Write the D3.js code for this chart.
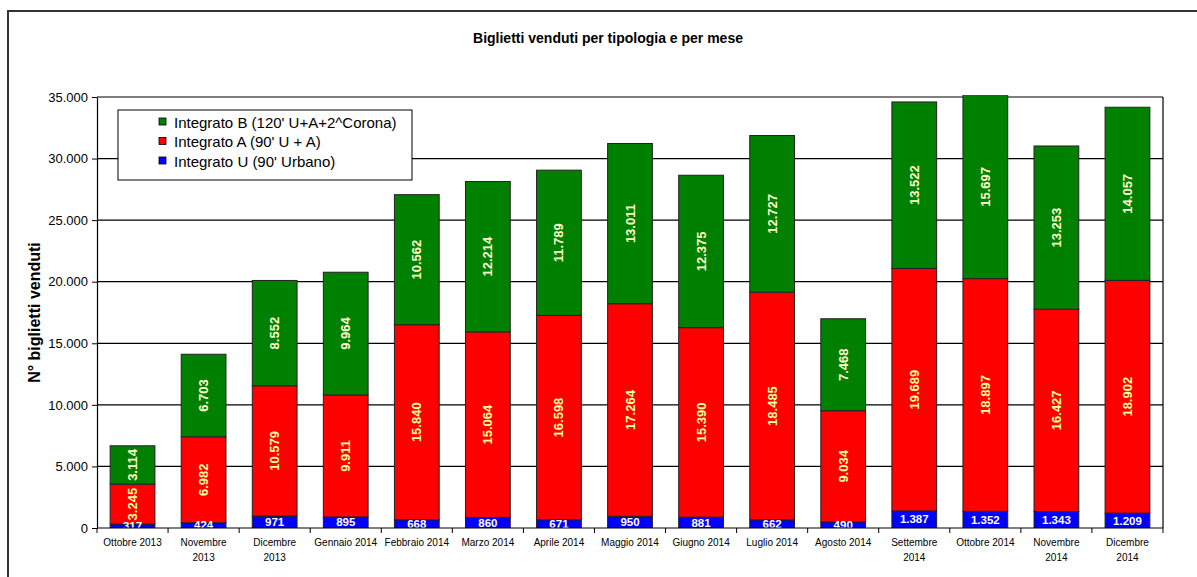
<!DOCTYPE html>
<html>
<head>
<meta charset="utf-8">
<script src="https://cdn.jsdelivr.net/npm/d3@7"></script>
<style>
  body { margin: 0; background: #fff; }
  svg { font-family: Arial, "Liberation Sans", sans-serif; }
</style>
</head>
<body>
<svg width="1197" height="577"></svg>
<script>
// months (\n = line break in the axis label)
const months = ["Ottobre 2013", "Novembre\n2013", "Dicembre\n2013", "Gennaio 2014", "Febbraio 2014",
  "Marzo 2014", "Aprile 2014", "Maggio 2014", "Giugno 2014", "Luglio 2014", "Agosto 2014",
  "Settembre\n2014", "Ottobre 2014", "Novembre\n2014", "Dicembre\n2014"]

const integratoU = [317, 424, 971, 895, 668, 860, 671, 950, 881, 662, 490, 1387, 1352, 1343, 1209]
const integratoA = [3245, 6982, 10579, 9911, 15840, 15064, 16598, 17264, 15390, 18485, 9034, 19689, 18897, 16427, 18902]
const integratoB = [3114, 6703, 8552, 9964, 10562, 12214, 11789, 13011, 12375, 12727, 7468, 13522, 15697, 13253, 14057]

const seriesNames = ["Integrato U (90' Urbano)", "Integrato A (90' U + A)", "Integrato B (120' U+A+2^Corona)"]
const seriesColors = ["#0000ff", "#ff0000", "#008000"]
const yTicks = [0, 5000, 10000, 15000, 20000, 25000, 30000, 35000]

const svg = d3.select("svg")
const fmt = d3.formatLocale({decimal: ",", thousands: ".", grouping: [3], currency: ["", ""]}).format(",d")

// outer frame
svg.append("rect").attr("x", 8).attr("y", 11).attr("width", 1210).attr("height", 600)
  .attr("fill", "none").attr("stroke", "#333").attr("stroke-width", 2)

const pLeft = 97, pRight = 1163, pTop = 97, pBottom = 528

const x = d3.scaleBand().domain(months).range([pLeft, pRight]).paddingInner(0.37).paddingOuter(0.185)
const y = d3.scaleLinear().domain([0, 35000]).range([pBottom, pTop])

// gridlines + plot border
svg.append("g").selectAll("line").data(yTicks.slice(1)).join("line")
  .attr("x1", pLeft).attr("x2", pRight).attr("y1", d => y(d)).attr("y2", d => y(d))
  .attr("stroke", "#000").attr("stroke-width", 1.2)
svg.append("line").attr("x1", pRight).attr("x2", pRight).attr("y1", pTop).attr("y2", pBottom)
  .attr("stroke", "#000").attr("stroke-width", 1.2)

// stack the data
const rows = months.map((m, i) => ({m, U: integratoU[i], A: integratoA[i], B: integratoB[i]}))
const stack = d3.stack().keys(["U", "A", "B"])(rows)

svg.append("clipPath").attr("id", "clip").append("rect")
  .attr("x", pLeft).attr("y", pTop - 2).attr("width", pRight - pLeft).attr("height", pBottom - pTop + 2)

const barsG = svg.append("g").attr("clip-path", "url(#clip)")
stack.forEach((s, k) => {
  barsG.append("g").selectAll("rect").data(s).join("rect")
    .attr("x", d => x(d.data.m))
    .attr("width", x.bandwidth())
    .attr("y", d => y(d[1]))
    .attr("height", d => y(d[0]) - y(d[1]))
    .attr("fill", seriesColors[k])
    .attr("stroke", "#222").attr("stroke-width", 1)
})

// value labels
const labelColors = ["#ffffff", "#ffff99", "#ffffcc"]
const labG = svg.append("g").attr("font-weight", "bold")
stack.forEach((s, k) => {
  labG.append("g").selectAll("text").data(s).join("text")
    .attr("text-anchor", "middle")
    .attr("font-size", k == 0 ? 11.5 : 13)
    .attr("fill", labelColors[k])
    .attr("transform", d => {
      const cx = x(d.data.m) + x.bandwidth() / 2
      const t = Math.max(y(d[1]), pTop - 2)
      const cy = (y(d[0]) + t) / 2
      if (k == 0) return `translate(${cx},${cy + 4})`
      return `translate(${cx + 4.5},${cy}) rotate(-90)`
    })
    .text(d => fmt(d[1] - d[0]))
})

// y axis
const yAxis = svg.append("g").attr("transform", `translate(${pLeft},0)`)
  .call(d3.axisLeft(y).tickValues(yTicks).tickFormat(fmt).tickSize(5).tickSizeOuter(0))
yAxis.select(".domain").attr("stroke", "#000").attr("stroke-width", 1.2)
yAxis.selectAll("text").attr("font-size", 13).attr("font-family", "Arial, sans-serif").attr("fill", "#000").attr("dx", -1)

// x axis
const xAxis = svg.append("g").attr("transform", `translate(0,${pBottom})`)
xAxis.append("line").attr("x1", pLeft).attr("x2", pRight).attr("stroke", "#000").attr("stroke-width", 1.2)
xAxis.selectAll("line.tk").data(d3.range(months.length + 1)).join("line").attr("class", "tk")
  .attr("x1", i => pLeft + i * x.step()).attr("x2", i => pLeft + i * x.step())
  .attr("y1", 0).attr("y2", 5).attr("stroke", "#000")
const xl = xAxis.selectAll("text").data(months).join("text")
  .attr("text-anchor", "middle").attr("font-size", 10).attr("fill", "#000")
  .attr("x", d => x(d) + x.bandwidth() / 2).attr("y", 18)
xl.each(function(d) {
  d.split("\n").forEach((line, j) => {
    d3.select(this).append("tspan").attr("x", x(d) + x.bandwidth() / 2).attr("dy", j ? 15 : 0).text(line)
  })
})

// titles
svg.append("text").attr("x", 608).attr("y", 43).attr("text-anchor", "middle")
  .attr("font-size", 14).attr("font-weight", "bold").text("Biglietti venduti per tipologia e per mese")
svg.append("text").attr("transform", `translate(40,${(pTop + pBottom) / 2}) rotate(-90)`)
  .attr("text-anchor", "middle").attr("font-size", 16).attr("font-weight", "bold").text("N° biglietti venduti")

// legend
const lg = svg.append("g").attr("transform", "translate(118,110)")
lg.append("rect").attr("width", 294).attr("height", 70).attr("fill", "#fff").attr("stroke", "#000")
const order = [2, 1, 0]
order.forEach((k, j) => {
  lg.append("rect").attr("x", 41).attr("y", 8 + j * 19.5).attr("width", 7).attr("height", 7)
    .attr("fill", seriesColors[k]).attr("stroke", "#000").attr("stroke-width", 0.8)
  lg.append("text").attr("x", 56).attr("y", 17.5 + j * 19.5).attr("font-size", 15).text(seriesNames[k])
})
</script>
</body>
</html>
